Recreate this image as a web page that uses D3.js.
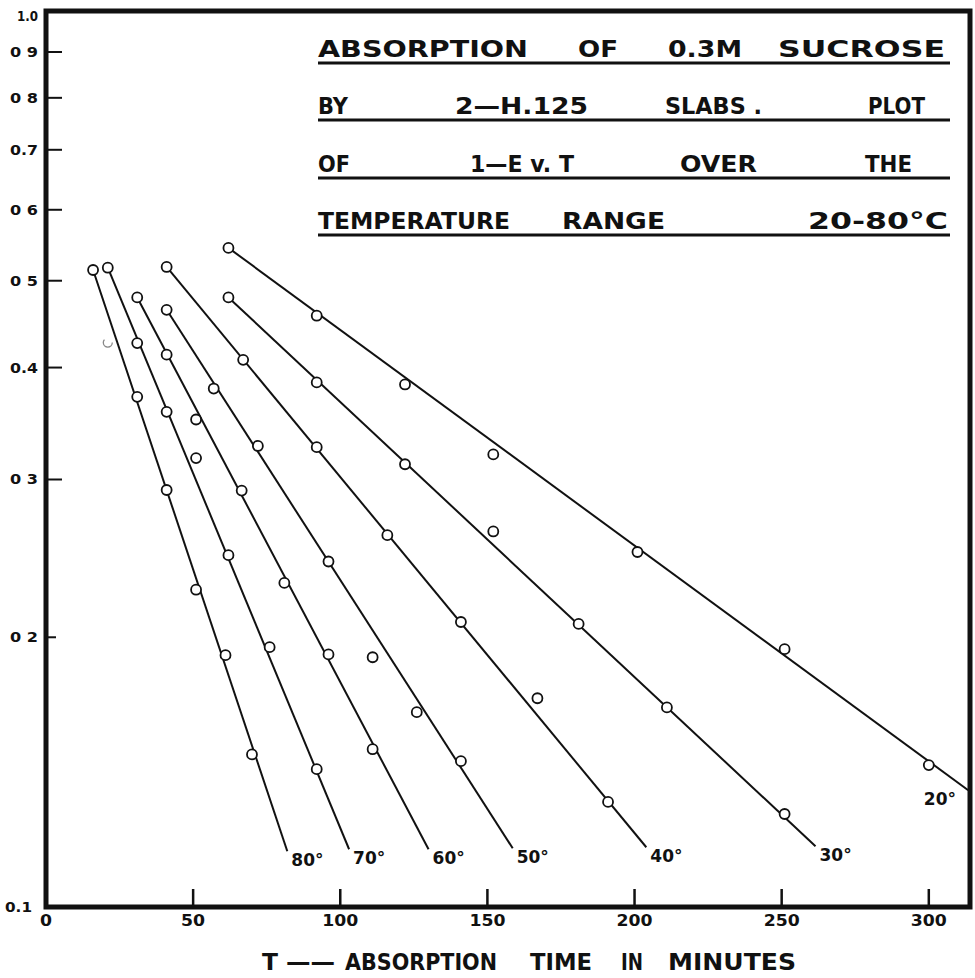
<!DOCTYPE html>
<html>
<head>
<meta charset="utf-8">
<script src="https://cdn.jsdelivr.net/npm/d3@7"></script>
<style>
body { margin: 0; background: #fff; }
text { font-family: "DejaVu Sans", sans-serif; font-weight: bold; fill: #111; }
</style>
</head>
<body>
<script>
// readings: T in minutes, 1-E (log scale)
const temps = ["80°", "70°", "60°", "50°", "40°", "30°", "20°"];
const t80 = [16, 31, 41, 51, 61, 70];
const e80 = [0.514, 0.371, 0.292, 0.226, 0.191, 0.148];
const t70 = [21, 31, 41, 51, 62, 76, 92];
const e70 = [0.517, 0.426, 0.357, 0.317, 0.247, 0.195, 0.1425];
const t60 = [31, 41, 51, 66.5, 81, 96, 111];
const e60 = [0.479, 0.4135, 0.350, 0.2916, 0.230, 0.1914, 0.150];
const t50 = [41, 57, 72, 96, 111, 126, 141];
const e50 = [0.464, 0.379, 0.327, 0.243, 0.190, 0.165, 0.1455];
const t40 = [41, 67, 92, 116, 141, 167, 191];
const e40 = [0.518, 0.408, 0.326, 0.260, 0.208, 0.171, 0.131];
const t30 = [62, 92, 122, 152, 181, 211, 251];
const e30 = [0.479, 0.385, 0.312, 0.2625, 0.207, 0.167, 0.127];
const t20 = [62, 92, 122, 152, 201, 251, 300];
const e20 = [0.544, 0.457, 0.383, 0.320, 0.249, 0.194, 0.144];
// hand drawn fit lines: [start, end]
const fitT = [[16, 82], [21, 103], [31, 130], [41, 158.6], [41, 204], [62, 261.5], [62, 313.4]];
const fitE = [[0.514, 0.1154], [0.517, 0.116], [0.479, 0.116], [0.464, 0.1163], [0.518, 0.1166], [0.479, 0.1169], [0.544, 0.135]];
const fadedT = [21];
const fadedE = [0.4265];

const yTicks = [0.9, 0.8, 0.7, 0.6, 0.5, 0.4, 0.3, 0.2];
const yTickLabels = ["0 9", "0 8", "0.7", "0 6", "0 5", "0.4", "0 3", "0 2"];
const xTicks = [0, 50, 100, 150, 200, 250, 300];

const titleLines = [
    ["ABSORPTION", "OF", "0.3M", "SUCROSE"],
    ["BY", "2—H.125", "SLABS .", "PLOT"],
    ["OF", "1—E v. T", "OVER", "THE"],
    ["TEMPERATURE", "RANGE", "20-80°C"]
];
const xTitle = ["T", "——", "ABSORPTION", "TIME", "IN", "MINUTES"];

// layout
const titleX = [[318, 578, 668, 778], [318, 455, 665, 868], [318, 470, 680, 865], [318, 562, 808]];
const titleW = [[210, 40, 74, 167], [30, 133, 97, 57], [32, 104, 77, 47], [192, 103, 140]];
const titleBase = [57, 114, 172, 229];
const xTitleX = [262, 286, 345, 530, 621, 668];
const xTitleW = [16, 49, 152, 62, 22, 128];

const series = temps.map((name, i) => {
    const ts = [t80, t70, t60, t50, t40, t30, t20][i];
    const es = [e80, e70, e60, e50, e40, e30, e20][i];
    return {
        name: name,
        points: ts.map((t, j) => ({t: t, e: es[j]})),
        fit: fitT[i].map((t, j) => ({t: t, e: fitE[i][j]}))
    };
});

const svg = d3.select("body").append("svg")
    .attr("width", 975)
    .attr("height", 978);

const x = d3.scaleLinear().domain([0, 314]).range([46, 970]);
const y = d3.scaleLog().domain([0.1, 1]).range([907, 11]);

// fit lines
const line = d3.line().x(d => x(d.t)).y(d => y(d.e));
svg.selectAll(".fit")
    .data(series)
    .enter()
    .append("path")
    .attr("class", "fit")
    .attr("d", d => line(d.fit))
    .attr("fill", "none")
    .attr("stroke", "#111")
    .attr("stroke-width", 2);

// points
series.forEach(s => {
    svg.append("g").selectAll("circle")
        .data(s.points)
        .enter()
        .append("circle")
        .attr("cx", d => x(d.t))
        .attr("cy", d => y(d.e))
        .attr("r", 5)
        .attr("fill", "#fff")
        .attr("stroke", "#111")
        .attr("stroke-width", 1.8);
});

svg.selectAll(".faded")
    .data(fadedT)
    .enter()
    .append("circle")
    .attr("class", "faded")
    .attr("cx", d => x(d))
    .attr("cy", (d, i) => y(fadedE[i]))
    .attr("r", 4.5)
    .attr("fill", "none")
    .attr("stroke", "#888")
    .attr("stroke-width", 1.3)
    .attr("stroke-dasharray", "17,12");

// temperature labels at the foot of each line
svg.selectAll(".temp")
    .data(series)
    .enter()
    .append("text")
    .attr("class", "temp")
    .attr("x", (d, i) => i == 6 ? x(d.points[6].t) - 5 : x(d.fit[1].t) + 4)
    .attr("y", (d, i) => i == 6 ? y(d.points[6].e) + 40 : y(d.fit[1].e) + 15)
    .attr("font-size", 17)
    .text(d => d.name);

// frame
svg.append("rect")
    .attr("x", x(0))
    .attr("y", y(1))
    .attr("width", x(314) - x(0))
    .attr("height", y(0.1) - y(1))
    .attr("fill", "none")
    .attr("stroke", "#111")
    .attr("stroke-width", 5);

// y ticks
svg.selectAll(".ytick")
    .data(yTicks)
    .enter()
    .append("line")
    .attr("x1", x(0))
    .attr("x2", d => d == 0.2 ? x(0) + 10 : x(0) + 16)
    .attr("y1", d => y(d))
    .attr("y2", d => y(d))
    .attr("stroke", "#111")
    .attr("stroke-width", 2);

svg.selectAll(".ylab")
    .data(yTicks)
    .enter()
    .append("text")
    .attr("x", 10)
    .attr("y", d => y(d) + 5)
    .attr("font-size", 14)
    .attr("textLength", 28)
    .attr("lengthAdjust", "spacingAndGlyphs")
    .text((d, i) => yTickLabels[i]);

svg.append("text").attr("x", 17).attr("y", y(1) + 10).attr("font-size", 14)
    .attr("textLength", 21).attr("lengthAdjust", "spacingAndGlyphs").text("1.0");
svg.append("text").attr("x", 5).attr("y", y(0.1) + 5).attr("font-size", 14)
    .attr("textLength", 27).attr("lengthAdjust", "spacingAndGlyphs").text("0.1");

// x ticks
svg.selectAll(".xtick")
    .data(xTicks.filter(d => d > 0))
    .enter()
    .append("line")
    .attr("x1", d => x(d))
    .attr("x2", d => x(d))
    .attr("y1", y(0.1))
    .attr("y2", y(0.1) - 18)
    .attr("stroke", "#111")
    .attr("stroke-width", 2.5);

svg.selectAll(".xlab")
    .data(xTicks)
    .enter()
    .append("text")
    .attr("x", d => x(d))
    .attr("y", 926)
    .attr("text-anchor", "middle")
    .attr("font-size", 16)
    .attr("textLength", d => String(d).length * 12)
    .attr("lengthAdjust", "spacingAndGlyphs")
    .text(d => d);

// x axis title
svg.selectAll(".xtitle")
    .data(xTitle)
    .enter()
    .append("text")
    .attr("x", (d, i) => xTitleX[i])
    .attr("y", 970)
    .attr("font-size", 23)
    .attr("textLength", (d, i) => xTitleW[i])
    .attr("lengthAdjust", "spacingAndGlyphs")
    .text(d => d);

// title block with underlines
titleLines.forEach((words, i) => {
    svg.append("g").selectAll("text")
        .data(words)
        .enter()
        .append("text")
        .attr("x", (d, j) => titleX[i][j])
        .attr("y", titleBase[i])
        .attr("font-size", 23)
        .attr("textLength", (d, j) => titleW[i][j])
        .attr("lengthAdjust", "spacingAndGlyphs")
        .text(d => d);
    svg.append("line")
        .attr("x1", 318)
        .attr("x2", 950)
        .attr("y1", titleBase[i] + 6)
        .attr("y2", titleBase[i] + 6)
        .attr("stroke", "#111")
        .attr("stroke-width", 3);
});
</script>
</body>
</html>
